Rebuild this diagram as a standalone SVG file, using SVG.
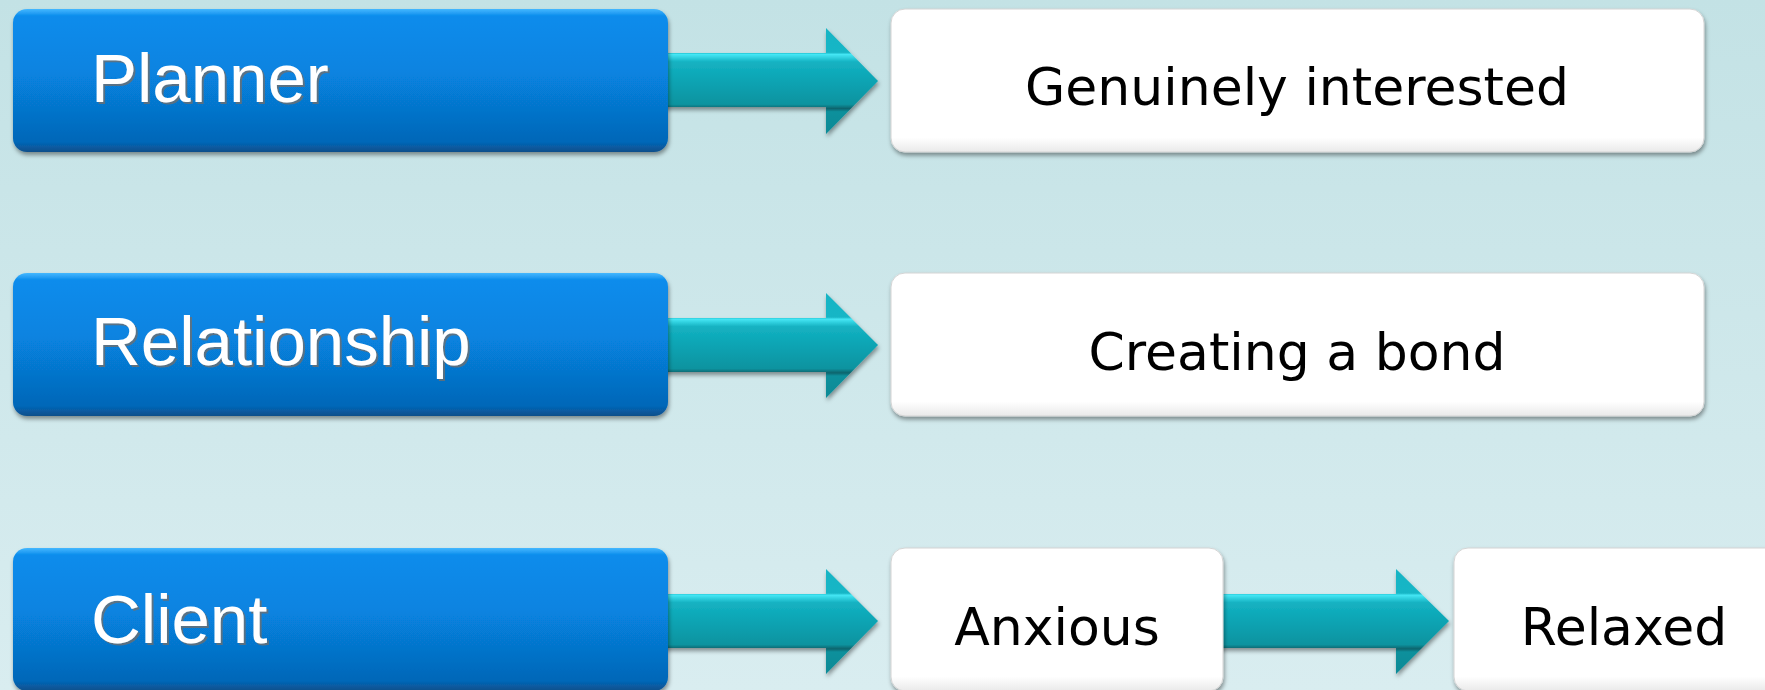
<svg xmlns="http://www.w3.org/2000/svg" width="1765" height="690" viewBox="0 0 1765 690">
  <defs>
    <linearGradient id="bg" x1="0" y1="0" x2="0" y2="1">
      <stop offset="0" stop-color="#c3e2e5"/>
      <stop offset="1" stop-color="#d9edf0"/>
    </linearGradient>
    <linearGradient id="blue" x1="0" y1="0" x2="0" y2="1">
      <stop offset="0" stop-color="#45b8ff"/>
      <stop offset="0.05" stop-color="#0b8cec"/>
      <stop offset="0.45" stop-color="#0783e0"/>
      <stop offset="0.93" stop-color="#0567b8"/>
      <stop offset="1" stop-color="#0a4f8a"/>
    </linearGradient>
    <linearGradient id="white" x1="0" y1="0" x2="0" y2="1">
      <stop offset="0" stop-color="#ffffff"/>
      <stop offset="0.9" stop-color="#ffffff"/>
      <stop offset="1" stop-color="#e9e9e9"/>
    </linearGradient>
    <linearGradient id="teal" x1="0" y1="0" x2="0" y2="1">
      <stop offset="0" stop-color="#16b4c4"/>
      <stop offset="0.23" stop-color="#18b6c6"/>
      <stop offset="0.25" stop-color="#44e6f4"/>
      <stop offset="0.32" stop-color="#14b2c2"/>
      <stop offset="0.55" stop-color="#0aa0af"/>
      <stop offset="0.72" stop-color="#0a939f"/>
      <stop offset="0.76" stop-color="#0b646d"/>
      <stop offset="0.79" stop-color="#0a909c"/>
      <stop offset="1" stop-color="#0a8a96"/>
    </linearGradient>
    <filter id="shadow" x="-5%" y="-10%" width="110%" height="125%">
      <feDropShadow dx="1" dy="3" stdDeviation="2" flood-color="#000" flood-opacity="0.4"/>
    </filter>
    <filter id="tshadow" x="-5%" y="-10%" width="110%" height="130%">
      <feDropShadow dx="2" dy="2" stdDeviation="0.6" flood-color="#6e6e6e" flood-opacity="0.8"/>
    </filter>
  </defs>
  <style>
    .blue { fill: url(#blue); filter: url(#shadow); }
    .wbox { fill: url(#white); stroke: #d4d4d4; stroke-width: 1; filter: url(#shadow); }
    .arrow { fill: url(#teal); filter: url(#shadow); }
    .lbl { font-family: "Liberation Sans", Arial, sans-serif; font-size: 69px; fill: #ffffff; filter: url(#tshadow); }
    .txt { font-family: "DejaVu Sans", Verdana, sans-serif; font-size: 52px; fill: #000000; text-anchor: middle; }
  </style>
  <rect x="0" y="0" width="1765" height="690" fill="url(#bg)"/>

  <g id="connectors">
    <path class="arrow" d="M660,53 L826,53 L826,28 L878,81 L826,134 L826,107 L660,107 Z"/>
    <path class="arrow" d="M660,318 L826,318 L826,293 L878,345 L826,398 L826,372 L660,372 Z"/>
    <path class="arrow" d="M660,594 L826,594 L826,569 L878,621 L826,674 L826,648 L660,648 Z"/>
    <path class="arrow" d="M1215,594 L1396,594 L1396,569 L1449,621 L1396,674 L1396,648 L1215,648 Z"/>
  </g>

  <g id="planner">
    <rect class="blue" x="13" y="9" width="655" height="143" rx="14"/>
    <text class="lbl" x="91" y="102">Planner</text>
  </g>
  <g id="relationship">
    <rect class="blue" x="13" y="273" width="655" height="143" rx="14"/>
    <text class="lbl" x="91" y="365">Relationship</text>
  </g>
  <g id="client">
    <rect class="blue" x="13" y="548" width="655" height="143" rx="14"/>
    <text class="lbl" x="91" y="643">Client</text>
  </g>

  <g id="genuinely-interested">
    <rect class="wbox" x="891" y="9" width="813" height="143" rx="14"/>
    <text class="txt" x="1297" y="105">Genuinely interested</text>
  </g>
  <g id="creating-a-bond">
    <rect class="wbox" x="891" y="273" width="813" height="143" rx="14"/>
    <text class="txt" x="1297" y="370">Creating a bond</text>
  </g>
  <g id="anxious">
    <rect class="wbox" x="891" y="548" width="332" height="143" rx="14"/>
    <text class="txt" x="1057" y="645">Anxious</text>
  </g>
  <g id="relaxed">
    <rect class="wbox" x="1454" y="548" width="333" height="143" rx="14"/>
    <text class="txt" x="1624" y="645">Relaxed</text>
  </g>
</svg>
